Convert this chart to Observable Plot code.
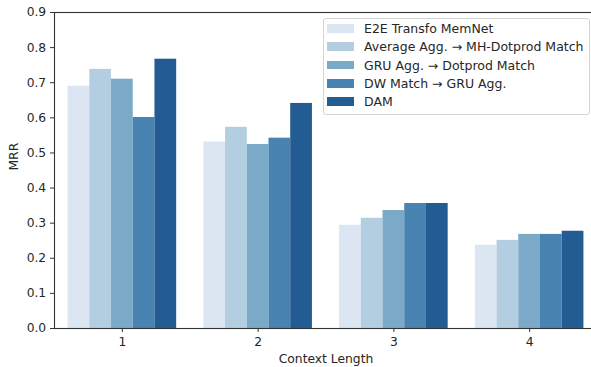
<!DOCTYPE html>
<html>
<head>
<meta charset="utf-8">
<script src="https://cdn.jsdelivr.net/npm/d3@7"></script>
<script src="https://cdn.jsdelivr.net/npm/@observablehq/plot@0.6"></script>
<style>
  html, body { margin: 0; padding: 0; background: #fff; }
  #wrap { position: relative; width: 591px; height: 367px; overflow: hidden; font-family: "DejaVu Sans", sans-serif; }
  #legend { position: absolute; left: 323px; top: 18px; width: 267px; height: 97px;
            border: 1px solid #d4d4d4; border-radius: 3px; background: rgba(255,255,255,0.85);
            box-sizing: border-box; font-size: 12.5px; color: #262626; }
  .row { position: absolute; left: 3px; height: 18px; display: flex; align-items: center; white-space: nowrap; }
  .sw { width: 27px; height: 8.7px; margin-right: 10px; }
</style>
</head>
<body>
<div id="wrap"></div>
<script>
const contextLengths = [1, 2, 3, 4];
const models = [
  "E2E Transfo MemNet",
  "Average Agg. \u2192 MH-Dotprod Match",
  "GRU Agg. \u2192 Dotprod Match",
  "DW Match \u2192 GRU Agg.",
  "DAM"
];
const colors = ["#dce6f2", "#b4cee1", "#7baac9", "#4883b1", "#235c92"];
const e2eTransfoMemNet = [0.690, 0.531, 0.294, 0.237];
const averageAggMHDotprod = [0.738, 0.573, 0.314, 0.251];
const gruAggDotprod = [0.710, 0.524, 0.336, 0.268];
const dwMatchGruAgg = [0.601, 0.542, 0.356, 0.268];
const dam = [0.767, 0.641, 0.356, 0.277];
const yTicks = [0, 0.1, 0.2, 0.3, 0.4, 0.5, 0.6, 0.7, 0.8, 0.9];

const series = [e2eTransfoMemNet, averageAggMHDotprod, gruAggDotprod, dwMatchGruAgg, dam];
const groupWidth = 0.8;
const barW = groupWidth / models.length;
const rows = [];
contextLengths.forEach((c, i) => {
  models.forEach((m, k) => {
    const x1 = c - groupWidth / 2 + k * barW;
    rows.push({ctx: c, model: m, mrr: series[k][i], x1, x2: x1 + barW});
  });
});

const font = "DejaVu Sans";
const chart = Plot.plot({
  width: 591,
  height: 367,
  marginLeft: 54,
  marginRight: -6,
  marginTop: 12,
  marginBottom: 39,
  style: {fontFamily: font, fontSize: "12.3px", color: "#262626", background: "white"},
  x: {domain: [0.5, 4.5]},
  y: {domain: [0, 0.9]},
  color: {domain: models, range: colors},
  marks: [
    Plot.rectY(rows, {x1: "x1", x2: "x2", y: "mrr", fill: "model"}),
    Plot.frame({stroke: "#333", strokeWidth: 1.1}),
    Plot.axisY({ticks: yTicks, tickFormat: d3.format(".1f"), tickSize: 4, tickPadding: 4.3, label: null, stroke: "#333"}),
    Plot.axisX({ticks: contextLengths, tickFormat: d3.format("d"), tickSize: 4, tickPadding: 5.2, label: null, stroke: "#333"}),
    Plot.text(["MRR"], {frameAnchor: "left", dx: -40, rotate: -90, text: d => d, fill: "#262626"}),
    Plot.text(["Context Length"], {frameAnchor: "bottom", dy: 31, lineAnchor: "middle", text: d => d, fill: "#262626"})
  ]
});
const wrap = document.getElementById("wrap");
wrap.appendChild(chart);

const legend = document.createElement("div");
legend.id = "legend";
models.forEach((m, k) => {
  const row = document.createElement("div");
  row.className = "row";
  row.style.top = (10.3 - 1 - 9 + k * 18.35) + "px";
  const sw = document.createElement("div");
  sw.className = "sw";
  sw.style.background = colors[k];
  const t = document.createElement("span");
  t.textContent = m;
  row.appendChild(sw);
  row.appendChild(t);
  legend.appendChild(row);
});
wrap.appendChild(legend);
</script>
</body>
</html>
